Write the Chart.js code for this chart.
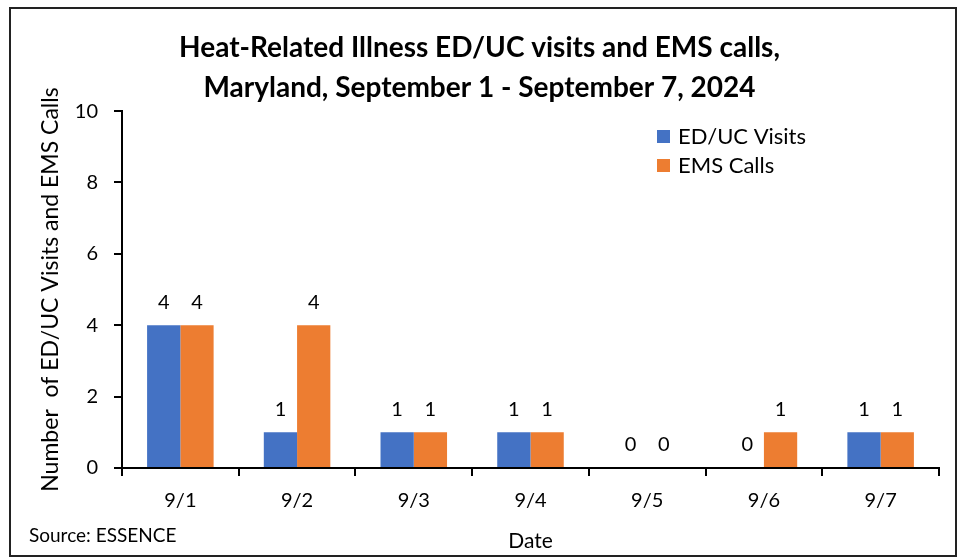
<!DOCTYPE html>
<html>
<head>
<meta charset="utf-8">
<script src="https://cdn.jsdelivr.net/npm/chart.js@4.4.1/dist/chart.umd.min.js"></script>
<style>
  html, body { margin: 0; padding: 0; background: #fff; }
  #wrap { width: 958px; height: 558px; position: relative; }
</style>
</head>
<body>
<div id="wrap"><canvas id="heatChart" width="958" height="558"></canvas></div>
<script>
// data
const dates = ['9/1', '9/2', '9/3', '9/4', '9/5', '9/6', '9/7'];
const edUcVisits = [4, 1, 1, 1, 0, 0, 1];
const emsCalls = [4, 4, 1, 1, 0, 1, 1];
const seriesNames = ['ED/UC Visits', 'EMS Calls'];
const seriesColors = ['#4472C4', '#ED7D31'];
const titleLines = ['Heat-Related Illness ED/UC visits and EMS calls,', 'Maryland, September 1 - September 7, 2024'];

const FONT = 'Lato, "Open Sans", sans-serif';

// border, value labels, legend and source note
const extras = {
  id: 'extras',
  afterDraw(chart) {
    const ctx = chart.ctx;
    ctx.save();
    ctx.strokeStyle = '#222';
    ctx.lineWidth = 2;
    ctx.strokeRect(10, 8, 946, 548);

    ctx.fillStyle = '#000';
    ctx.font = '20px ' + FONT;
    ctx.textAlign = 'center';
    ctx.textBaseline = 'middle';
    chart.data.datasets.forEach((ds, i) => {
      chart.getDatasetMeta(i).data.forEach((bar, j) => {
        ctx.fillText(String(ds.data[j]), bar.x, bar.y - 23);
      });
    });

    // legend
    ctx.font = '22px ' + FONT;
    ctx.textAlign = 'left';
    seriesNames.forEach((name, i) => {
      const y = 136.5 + i * 29;
      ctx.fillStyle = seriesColors[i];
      ctx.fillRect(657, y - 6.5, 13, 13);
      ctx.fillStyle = '#000';
      ctx.fillText(name, 678, y);
    });

    ctx.font = '19px ' + FONT;
    ctx.fillText('Source: ESSENCE', 29, 536);
    ctx.restore();
  }
};

new Chart(document.getElementById('heatChart'), {
  type: 'bar',
  data: {
    labels: dates,
    datasets: [
      { label: seriesNames[0], data: edUcVisits, backgroundColor: seriesColors[0] },
      { label: seriesNames[1], data: emsCalls, backgroundColor: seriesColors[1] }
    ]
  },
  options: {
    responsive: false,
    animation: false,
    categoryPercentage: 0.57,
    barPercentage: 1,
    layout: { padding: { left: 20, right: 19, top: 8, bottom: 4 } },
    plugins: {
      legend: { display: false },
      tooltip: { enabled: false },
      title: {
        display: true,
        text: titleLines,
        color: '#000',
        font: { family: FONT, size: 28, weight: 'bold', lineHeight: 1.43 },
        padding: { top: 20, bottom: 3 }
      }
    },
    scales: {
      x: {
        grid: { offset: true, drawOnChartArea: false, color: '#000', lineWidth: 2, tickLength: 8 },
        border: { color: '#000', width: 2 },
        ticks: { color: '#000', font: { family: FONT, size: 20 }, padding: 13 },
        title: { display: true, text: 'Date', color: '#000', font: { family: FONT, size: 21 }, padding: { top: 6, bottom: 0 } },
        afterFit(scale) { scale.height = 86; }
      },
      y: {
        min: 0,
        max: 10,
        grid: { drawOnChartArea: false, color: '#000', lineWidth: 2, tickLength: 8 },
        border: { color: '#000', width: 2 },
        ticks: { stepSize: 2, color: '#000', font: { family: FONT, size: 20 }, padding: 16 },
        title: { display: true, text: 'Number  of ED/UC Visits and EMS Calls', color: '#000', font: { family: FONT, size: 23 }, padding: { top: 17, bottom: 0 } },
        afterFit(scale) { scale.width = 102; }
      }
    }
  },
  plugins: [extras]
});
</script>
</body>
</html>
